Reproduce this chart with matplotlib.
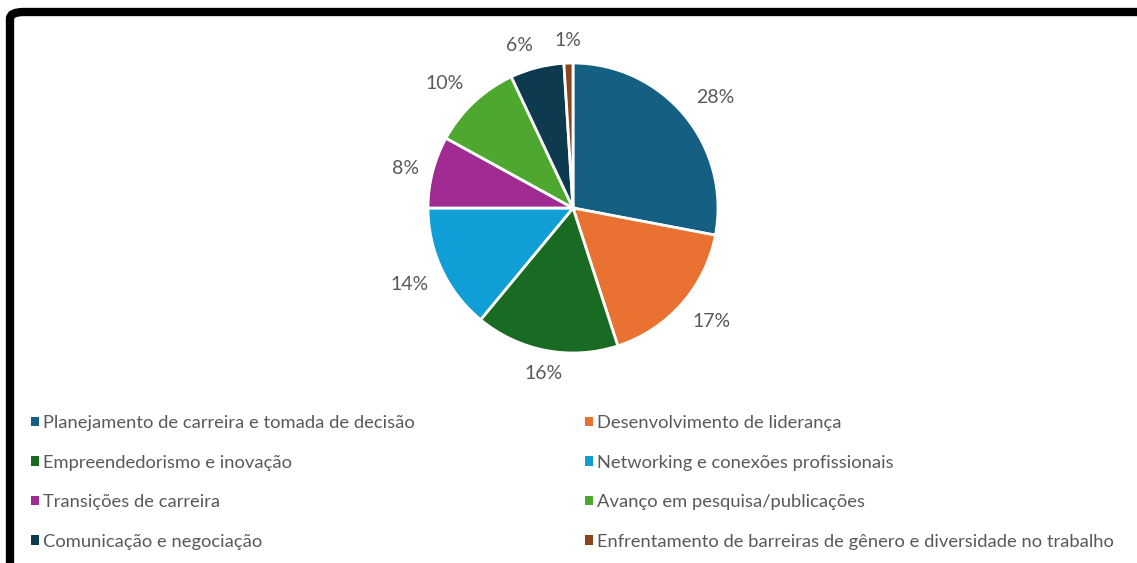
import matplotlib
matplotlib.use("Agg")
import numpy as np
import matplotlib.pyplot as plt
from matplotlib.patches import FancyBboxPatch, Patch

categories = [
    "Planejamento de carreira e tomada de decisão",
    "Desenvolvimento de liderança",
    "Empreendedorismo e inovação",
    "Networking e conexões profissionais",
    "Transições de carreira",
    "Avanço em pesquisa/publicações",
    "Comunicação e negociação",
    "Enfrentamento de barreiras de gênero e diversidade no trabalho",
]
values = [28, 17, 16, 14, 8, 10, 6, 1]
colors = ["#156082", "#E97132", "#196B24", "#0F9ED5", "#A02B93", "#4EA72E", "#0E3A50", "#8C441E"]

plt.rcParams['font.family'] = ['Lato', 'DejaVu Sans']
text_color = "#595959"

W, H = 1137, 563
fig = plt.figure(figsize=(W / 100, H / 100), dpi=100)
fig.patch.set_facecolor("white")

# pie axes: center (573,208), radius ~145
r = 145
cx, cy = 573, 208
ax = fig.add_axes([(cx - r) / W, 1 - (cy + r) / H, 2 * r / W, 2 * r / H])
wedges, texts, autotexts = ax.pie(
    values, colors=colors, startangle=90, counterclock=False,
    autopct=lambda p: f"{p:.0f}%", pctdistance=1.2,
    wedgeprops=dict(edgecolor="white", linewidth=2),
    textprops=dict(color=text_color, fontsize=14),
)
# place labels just outside each wedge (best-fit style)
for w, t in zip(wedges, autotexts):
    ang = np.deg2rad((w.theta1 + w.theta2) / 2)
    c, s = np.cos(ang), np.sin(ang)
    d = 1.1
    t.set_position((d * c, d * s))
    t.set_ha('left' if c > 0.3 else ('right' if c < -0.2 else 'center'))
    t.set_va('bottom' if s > 0.3 else ('top' if s < -0.3 else 'center'))
ax.set_xlim(-1, 1)
ax.set_ylim(-1, 1)
ax.set_aspect("equal")
ax.axis("off")

# legend, filled row by row (matplotlib fills column-major)
order = [0, 2, 4, 6, 1, 3, 5, 7]
handles = [Patch(facecolor=colors[i], edgecolor="none") for i in order]
labels = [categories[i] for i in order]
leg = fig.legend(
    handles, labels, ncol=2, loc="upper left",
    bbox_to_anchor=(22 / W, 1 - 406 / H), frameon=False, borderpad=0,
    fontsize=13.2, labelcolor=text_color,
    handlelength=0.44, handleheight=0.44, handletextpad=0.22,
    columnspacing=9.28, labelspacing=1.28,
)

# outer black border (cropped at right and bottom)
border = FancyBboxPatch((10 / W, -0.1), 1.3, 1 - 12 / H + 0.1,
                        boxstyle="round,pad=0,rounding_size=0.012",
                        transform=fig.transFigure, facecolor="none",
                        edgecolor="black", linewidth=6, clip_on=False)
fig.patches.append(border)

fig.savefig("out.png", dpi=100, facecolor="white")
